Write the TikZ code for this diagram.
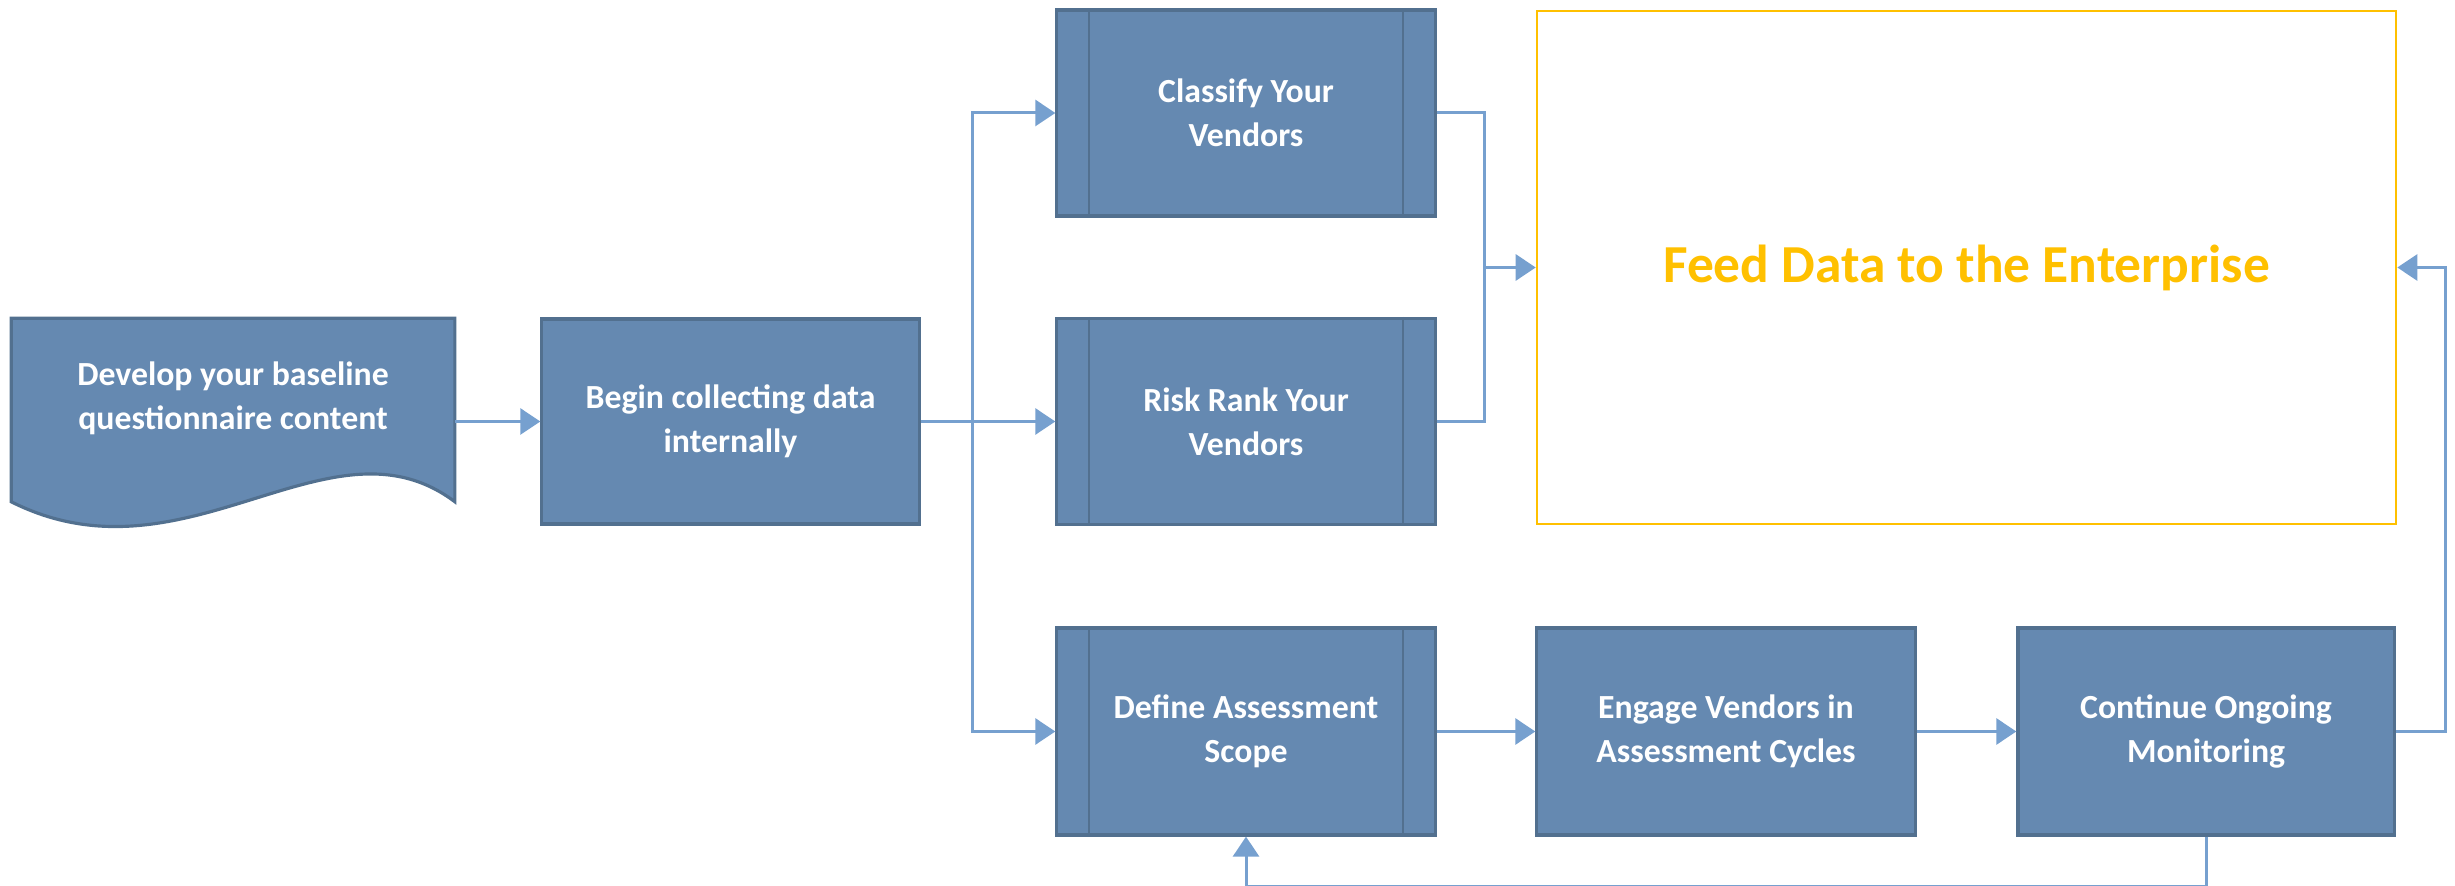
\documentclass[tikz,border=0pt]{standalone}
\usepackage{fontspec}
\setmainfont{Carlito}
\usepackage{xcolor}
\usetikzlibrary{arrows.meta}
\definecolor{stepfill}{HTML}{6589B1}
\definecolor{stepedge}{HTML}{52708F}
\definecolor{flowline}{HTML}{76A0CF}
\definecolor{feedorange}{HTML}{FFC000}
\tikzstyle{stepbox} = [draw=stepedge, fill=stepfill, line width=0.9pt,
    rectangle, minimum width=3.78cm, minimum height=2.06cm,
    align=center, text=white, font=\bfseries\fontsize{9.6}{12.6}\selectfont]
\tikzstyle{feedbox} = [draw=feedorange, line width=0.6pt, rectangle,
    minimum width=8.59cm, minimum height=5.13cm,
    text=feedorange, font=\bfseries\fontsize{15.2}{18}\selectfont]
\tikzstyle{flow} = [draw=flowline, line width=0.85pt,
    -{Triangle[length=0.2cm,width=0.26cm]}]
\tikzstyle{line} = [draw=flowline, line width=0.85pt]

\begin{document}
\begin{tikzpicture}[x=0.01cm, y=-0.01cm]
\useasboundingbox (0,0) rectangle (2455,886);

% document shape with wavy bottom
\node[minimum width=4.42cm, minimum height=1.82cm] (doc) at (233,410) {};
\draw[draw=stepedge, fill=stepfill, line width=0.9pt]
    (doc.south west) -- (doc.north west) -- (doc.north east) -- (doc.south east)
    .. controls +(-125,-94) and +(175,88) .. (doc.south west) -- cycle;
\node[stepbox, draw=none, fill=none] (doctext) at (233,398)
    {Develop your baseline\\questionnaire content};

\node[stepbox, minimum width=3.77cm, minimum height=2.05cm] (begin) at (730.5,421.5)
    {Begin collecting data\\internally};
\node[stepbox] (classify) at (1246,113) {Classify Your\\Vendors};
\node[stepbox] (risk) at (1246,421.5) {Risk Rank Your\\Vendors};
\node[stepbox, minimum height=2.07cm] (define) at (1246,731.5) {Define Assessment\\Scope};
\node[stepbox, minimum height=2.07cm] (engage) at (1726,731.5) {Engage Vendors in\\Assessment Cycles};
\node[stepbox, minimum width=3.76cm, minimum height=2.07cm] (cont) at (2206,731.5) {Continue Ongoing\\Monitoring};
\node[feedbox] (feed) at (1966.5,267.5) {Feed Data to the Enterprise};

% side bars of the predefined process boxes
\foreach \n in {classify,risk,define}{
    \draw[stepedge, line width=0.6pt] ([xshift=0.34cm]\n.north west) -- ([xshift=0.34cm]\n.south west);
    \draw[stepedge, line width=0.6pt] ([xshift=-0.34cm]\n.north east) -- ([xshift=-0.34cm]\n.south east);
}

\coordinate (split) at (972,421.5);
\coordinate (merge) at (1484,267.5);

\draw[flow] (doc.east |- begin.west) -- (begin.west);
\draw[flow] (begin.east) -- (risk.west);
\draw[flow] (split) |- (classify.west);
\draw[flow] (split) |- (define.west);
\draw[line] (classify.east) -| (merge);
\draw[line] (risk.east) -| (merge);
\draw[flow] (merge) -- (feed.west);
\draw[flow] (define) -- (engage);
\draw[flow] (engage) -- (cont);
\draw[flow] (cont.east) -- ++(50,0) |- (feed.east);
\draw[flow] (cont.south) -- ++(0,50) -| (define.south);
\end{tikzpicture}
\end{document}
